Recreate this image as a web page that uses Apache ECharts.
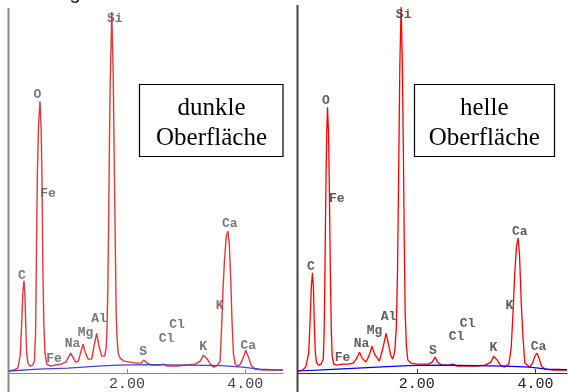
<!DOCTYPE html>
<html>
<head>
<meta charset="utf-8">
<script src="https://cdn.jsdelivr.net/npm/echarts@6/dist/echarts.min.js"></script>
<style>
  html, body { margin: 0; padding: 0; background: #fff; }
  #chart { width: 568px; height: 392px; }
</style>
</head>
<body>
<div id="chart"></div>
<script>
// EDX spectra, energy in keV against counts (arbitrary units)
const energyTicks = [2, 4];

// dark surface: measured spectrum and fitted background
const darkSpectrum = [
  [0.00, 2], [0.08, 3], [0.15, 5], [0.19, 18], [0.215, 50], [0.235, 82], [0.254, 93], [0.27, 78],
  [0.285, 45], [0.30, 20], [0.32, 10], [0.36, 7], [0.40, 8], [0.43, 12], [0.45, 40], [0.465, 120],
  [0.48, 200], [0.50, 250], [0.525, 274], [0.545, 245], [0.56, 190], [0.575, 100], [0.59, 50],
  [0.61, 20], [0.64, 9], [0.70, 7], [0.78, 8], [0.88, 9], [0.96, 11], [1.01, 16], [1.045, 20],
  [1.08, 16], [1.13, 11], [1.175, 12], [1.22, 22], [1.255, 29], [1.29, 21], [1.34, 14], [1.40, 14],
  [1.45, 30], [1.485, 40], [1.52, 28], [1.57, 17], [1.62, 17], [1.645, 25], [1.66, 45], [1.675, 90],
  [1.69, 170], [1.71, 280], [1.74, 364], [1.765, 300], [1.785, 200], [1.80, 130], [1.815, 60],
  [1.83, 35], [1.85, 20], [1.88, 15], [1.95, 12], [2.05, 11], [2.15, 10], [2.24, 10], [2.28, 13],
  [2.305, 14], [2.34, 10], [2.42, 8], [2.55, 8], [2.62, 9], [2.68, 7], [2.85, 7], [3.00, 8],
  [3.15, 9], [3.24, 12], [3.29, 18], [3.32, 20], [3.36, 14], [3.42, 8], [3.47, 6], [3.53, 8],
  [3.575, 12], [3.60, 45], [3.625, 85], [3.65, 115], [3.68, 138], [3.707, 143], [3.73, 130],
  [3.755, 95], [3.775, 55], [3.80, 20], [3.83, 9], [3.87, 7], [3.92, 9], [3.97, 16], [4.01, 23],
  [4.05, 17], [4.10, 8], [4.16, 4], [4.30, 3], [4.64, 3]
];
const darkBackground = [
  [0, 2], [0.5, 4], [1.0, 5], [1.5, 7], [1.85, 8], [2.4, 8.5], [3.0, 8], [3.6, 7.5],
  [3.95, 6], [4.25, 4], [4.64, 3]
];

// bright surface: measured spectrum and fitted background
const brightSpectrum = [
  [0.00, 2], [0.08, 3], [0.13, 6], [0.18, 20], [0.205, 55], [0.225, 88], [0.243, 101], [0.26, 85],
  [0.275, 50], [0.29, 22], [0.31, 11], [0.345, 8], [0.39, 9], [0.425, 14], [0.44, 40], [0.455, 110],
  [0.47, 190], [0.485, 245], [0.497, 268], [0.515, 240], [0.53, 175], [0.545, 100], [0.56, 45],
  [0.575, 18], [0.60, 9], [0.66, 8], [0.75, 9], [0.85, 9], [0.93, 10], [0.98, 14], [1.037, 21],
  [1.08, 15], [1.145, 11], [1.20, 18], [1.246, 27], [1.29, 19], [1.37, 12], [1.43, 25], [1.483, 40],
  [1.52, 30], [1.56, 18], [1.595, 14], [1.63, 22], [1.655, 45], [1.675, 100], [1.695, 200],
  [1.715, 310], [1.736, 369], [1.755, 320], [1.775, 220], [1.79, 130], [1.805, 60], [1.825, 28],
  [1.85, 13], [1.90, 10], [2.00, 9], [2.10, 9], [2.20, 9], [2.26, 11], [2.31, 16], [2.35, 11],
  [2.42, 8], [2.52, 8], [2.61, 9], [2.68, 7], [2.85, 7], [3.00, 7], [3.15, 8], [3.25, 11],
  [3.295, 17], [3.32, 19], [3.355, 13], [3.41, 8], [3.48, 6], [3.55, 9], [3.59, 25], [3.62, 60],
  [3.65, 100], [3.68, 128], [3.706, 136], [3.73, 120], [3.76, 70], [3.79, 35], [3.82, 10],
  [3.90, 6], [3.95, 10], [3.99, 17], [4.027, 20], [4.06, 15], [4.10, 7], [4.16, 4], [4.30, 3],
  [4.53, 3]
];
const brightBackground = [
  [0, 2], [0.5, 3.5], [1.0, 5], [1.5, 6.5], [1.85, 7.5], [2.4, 8], [3.0, 7.5], [3.5, 7],
  [3.9, 6], [4.2, 4], [4.53, 3.5]
];

// element markers: name, energy of the marker, marker height
const peakNames = ['C', 'O', 'Fe', 'Fe', 'Na', 'Mg', 'Al', 'Si', 'S', 'Cl', 'Cl', 'K', 'K', 'Ca', 'Ca'];
const darkMarkerEnergy = [0.22, 0.483, 0.661, 0.763, 1.076, 1.297, 1.525, 1.79, 2.271, 2.669, 2.847, 3.288, 3.568, 3.737, 4.051];
const darkMarkerHeight = [98.5, 280.5, 181, 14.5, 29.5, 41, 54.5, 357.5, 21, 34.5, 49, 26.5, 67.5, 150.5, 28];
const brightMarkerEnergy = [0.216, 0.469, 0.652, 0.749, 1.071, 1.29, 1.526, 1.779, 2.27, 2.669, 2.856, 3.29, 3.56, 3.735, 4.052];
const brightMarkerHeight = [107, 275, 176, 15.3, 29.3, 42.3, 56.3, 361.5, 22.7, 36.5, 49.7, 25.3, 67.7, 142, 26.7];

const panelCaptions = [['dunkle', 'Oberfläche'], ['helle', 'Oberfläche']];

function markers(energies, heights) {
  return peakNames.map((n, i) => ({ name: n, value: [energies[i], heights[i]] }));
}

function xAxisFor(gridIndex, max, lineColor, labelColor) {
  return {
    type: 'value', gridIndex, min: 0, max, interval: 2,
    axisLine: { show: true, lineStyle: { color: lineColor, width: 1.2 } },
    axisTick: { show: true, inside: true, length: 4, customValues: energyTicks, lineStyle: { color: lineColor } },
    axisLabel: {
      show: true, customValues: energyTicks, margin: 4,
      fontFamily: 'Liberation Mono', fontSize: 15, color: labelColor,
      formatter: v => v.toFixed(2)
    },
    splitLine: { show: false }
  };
}

function yAxisFor(gridIndex, max) {
  return {
    type: 'value', gridIndex, min: 0, max,
    axisLine: { show: false }, axisTick: { show: false }, axisLabel: { show: false },
    splitLine: { show: false }
  };
}

function markerSeries(idx, data, color) {
  return {
    type: 'scatter', xAxisIndex: idx, yAxisIndex: idx, data, silent: true,
    symbol: 'rect', symbolSize: 1, itemStyle: { color: 'rgba(0,0,0,0)' },
    label: {
      show: true, position: 'inside', formatter: '{b}',
      fontFamily: 'Liberation Mono', fontSize: 13, fontWeight: 'bold', color
    },
    z: 5
  };
}

function captionGraphics(cx, boxX, boxW, lines) {
  return [
    { type: 'rect', shape: { x: boxX, y: 84.5, width: boxW, height: 72 },
      style: { fill: '#fff', stroke: '#000', lineWidth: 1.2 }, z: 10 },
    { type: 'text', x: cx, y: 108.3, z: 11,
      style: { text: lines[0], font: '25px "Liberation Serif"', fill: '#000', align: 'center', verticalAlign: 'middle' } },
    { type: 'text', x: cx, y: 138.3, z: 11,
      style: { text: lines[1], font: '25px "Liberation Serif"', fill: '#000', align: 'center', verticalAlign: 'middle' } }
  ];
}

const chart = echarts.init(document.getElementById('chart'), null, { renderer: 'canvas' });
chart.setOption({
  animation: false,
  backgroundColor: '#fff',
  grid: [
    { left: 9, top: 8, width: 274, height: 368 },
    { left: 298, top: 5, width: 269, height: 371 }
  ],
  xAxis: [xAxisFor(0, 4.64, '#8a8a8a', '#444'), xAxisFor(1, 4.53, '#333', '#222')],
  yAxis: [yAxisFor(0, 368), yAxisFor(1, 371)],
  series: [
    { type: 'line', xAxisIndex: 0, yAxisIndex: 0, data: darkSpectrum, showSymbol: false, silent: true,
      lineStyle: { color: '#e2383c', width: 1.4 } },
    { type: 'line', xAxisIndex: 0, yAxisIndex: 0, data: darkBackground, showSymbol: false, silent: true,
      lineStyle: { color: '#4646c8', width: 1.3 } },
    markerSeries(0, markers(darkMarkerEnergy, darkMarkerHeight), '#555'),
    { type: 'line', xAxisIndex: 1, yAxisIndex: 1, data: brightSpectrum, showSymbol: false, silent: true,
      lineStyle: { color: '#ff0000', width: 1.3 } },
    { type: 'line', xAxisIndex: 1, yAxisIndex: 1, data: brightBackground, showSymbol: false, silent: true,
      lineStyle: { color: '#0000ff', width: 1.2 } },
    markerSeries(1, markers(brightMarkerEnergy, brightMarkerHeight), '#333')
  ],
  graphic: [
    // vertical frame lines of both panels, running past the energy axis
    { type: 'line', shape: { x1: 8.5, y1: 8, x2: 8.5, y2: 392 }, style: { stroke: '#8a8a8a', lineWidth: 2 } },
    { type: 'line', shape: { x1: 297.5, y1: 5, x2: 297.5, y2: 392 }, style: { stroke: '#444', lineWidth: 2 } },
    // descender of the caption line above the figure
    { type: 'text', x: 75, y: -7, style: { text: 'g', font: '20px "Liberation Sans"', fill: '#222', align: 'center', verticalAlign: 'middle' } },
    ...captionGraphics(211.5, 139.5, 143.5, panelCaptions[0]),
    ...captionGraphics(484.3, 414.5, 140, panelCaptions[1])
  ]
});
</script>
</body>
</html>
